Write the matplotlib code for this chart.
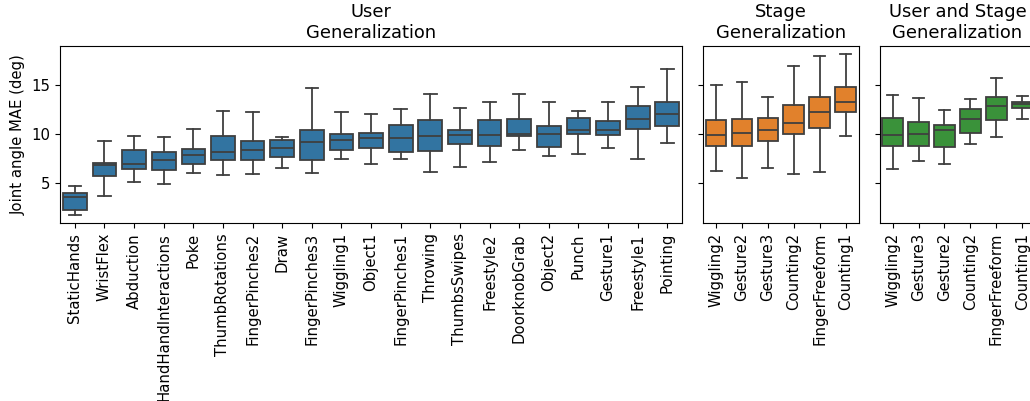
import matplotlib
matplotlib.use("Agg")
import matplotlib.pyplot as plt

# ---- User generalization ----
user_tasks = ["StaticHands", "WristFlex", "Abduction", "HandHandInteractions", "Poke",
              "ThumbRotations", "FingerPinches2", "Draw", "FingerPinches3", "Wiggling1",
              "Object1", "FingerPinches1", "Throwing", "ThumbsSwipes", "Freestyle2",
              "DoorknobGrab", "Object2", "Punch", "Gesture1", "Freestyle1", "Pointing"]
user_whislo = [1.73, 3.67, 5.17, 4.97, 6.05, 5.82, 5.95, 6.60, 6.05, 7.45,
               7.01, 7.45, 6.16, 6.70, 7.14, 8.44, 7.76, 7.99, 8.64, 7.45, 9.08]
user_q1 = [2.24, 5.71, 6.50, 6.36, 7.01, 7.35, 7.35, 7.69, 7.35, 8.44,
           8.64, 8.20, 8.33, 8.98, 8.81, 9.80, 8.71, 10.03, 9.90, 10.58, 10.88]
user_med = [3.61, 6.84, 7.01, 7.41, 7.93, 8.20, 8.37, 8.64, 9.22, 9.46,
            9.63, 9.63, 9.83, 9.90, 9.97, 10.03, 10.07, 10.48, 10.48, 11.56, 12.11]
user_q3 = [4.01, 7.11, 8.44, 8.20, 8.54, 9.83, 9.29, 9.39, 10.48, 10.03,
           10.17, 10.92, 11.43, 10.48, 11.43, 11.56, 10.82, 11.67, 11.33, 12.86, 13.27]
user_whishi = [4.69, 9.32, 9.83, 9.73, 10.58, 12.35, 12.24, 9.69, 14.73, 12.24,
               12.11, 12.55, 14.08, 12.65, 13.30, 14.08, 13.30, 12.41, 13.30, 14.80, 16.73]

# ---- Stage generalization ----
stage_tasks = ["Wiggling2", "Gesture2", "Gesture3", "Counting2", "FingerFreeform", "Counting1"]
stage_whislo = [6.26, 5.51, 6.60, 5.95, 6.16, 9.83]
stage_q1 = [8.84, 8.78, 9.29, 10.03, 10.61, 12.31]
stage_med = [9.93, 10.17, 10.41, 11.16, 12.31, 13.33]
stage_q3 = [11.50, 11.60, 11.70, 12.96, 13.84, 14.80]
stage_whishi = [15.03, 15.31, 13.81, 16.97, 18.06, 18.20]

# ---- User and stage generalization ----
both_tasks = ["Wiggling2", "Gesture3", "Gesture2", "Counting2", "FingerFreeform", "Counting1"]
both_whislo = [6.50, 7.24, 7.01, 8.98, 9.73, 11.60]
both_q1 = [8.78, 8.84, 8.74, 10.14, 11.46, 12.69]
both_med = [9.93, 10.07, 10.41, 11.60, 12.89, 13.06]
both_q3 = [11.70, 11.22, 10.92, 12.62, 13.84, 13.33]
both_whishi = [14.05, 13.74, 12.45, 13.57, 15.78, 13.95]

panel_titles = ["User\nGeneralization", "Stage\nGeneralization", "User and Stage\nGeneralization"]
panel_colors = ["#3274a1", "#e1812c", "#3a923a"]
line_color = "#3f3f3f"

plt.rcParams["font.size"] = 10.7
plt.rcParams["xtick.labelsize"] = 10.7
plt.rcParams["ytick.labelsize"] = 10.7
plt.rcParams["axes.labelsize"] = 10.7

panels = [
    (user_tasks, user_whislo, user_q1, user_med, user_q3, user_whishi),
    (stage_tasks, stage_whislo, stage_q1, stage_med, stage_q3, stage_whishi),
    (both_tasks, both_whislo, both_q1, both_med, both_q3, both_whishi),
]

fig = plt.figure(figsize=(10.3, 4.01), dpi=100)
gs = fig.add_gridspec(1, 3, width_ratios=[4, 1, 1], left=0.0583, right=1.005,
                      top=0.885, bottom=0.443, wspace=0.0675)
axes = []
for i in range(3):
    ax = fig.add_subplot(gs[0, i], sharey=axes[0] if axes else None)
    axes.append(ax)

for ax, (tasks, wlo, q1, med, q3, whi), title, color in zip(axes, panels, panel_titles, panel_colors):
    stats = [dict(label=t, whislo=a, q1=b, med=c, q3=d, whishi=e, fliers=[])
             for t, a, b, c, d, e in zip(tasks, wlo, q1, med, q3, whi)]
    positions = list(range(len(tasks)))
    ax.bxp(stats, positions=positions, widths=0.8, capwidths=0.42, patch_artist=True,
           showfliers=False,
           boxprops=dict(facecolor=color, edgecolor=line_color, linewidth=1.3),
           medianprops=dict(color=line_color, linewidth=1.3),
           whiskerprops=dict(color=line_color, linewidth=1.3),
           capprops=dict(color=line_color, linewidth=1.3))
    ax.set_xlim(-0.5, len(tasks) - 0.5)
    ax.set_xticks(positions)
    ax.set_xticklabels(tasks, rotation=90)
    ax.set_title(title, fontsize=12.85)

for ax in axes[1:]:
    ax.tick_params(labelleft=False)

axes[0].set_ylabel("Joint angle MAE (deg)")

fig.savefig("out.png", dpi=100)
